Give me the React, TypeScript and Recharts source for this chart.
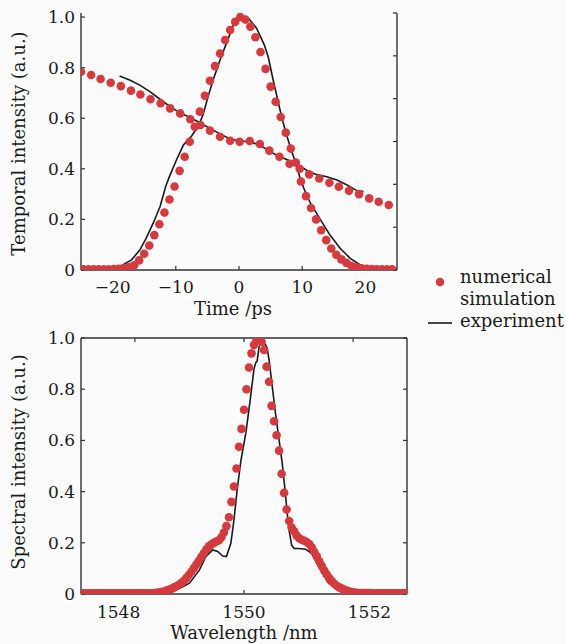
import React from "react";
import { ComposedChart, Scatter, Line, XAxis, YAxis, Label } from "recharts";

const FONT = "'DejaVu Serif', serif";
const RED = "#d43a3e";
const INK = "#1a1a1a";
const AXIS = "#333";

// #region Temporal data (ps, a.u.)
// simulated pulse, sampled every 0.8 ps starting at -24.6 ps
const pulseSimStart = -24.6;
const pulseSimStep = 0.8;
const pulseSim = [
  0.003, 0.003, 0.003, 0.003, 0.003, 0.003, 0.004, 0.005, 0.007, 0.011,
  0.019, 0.038, 0.064, 0.097, 0.138, 0.181, 0.227, 0.279, 0.33, 0.392,
  0.448, 0.507, 0.566, 0.626, 0.689, 0.748, 0.806, 0.856, 0.909, 0.949,
  0.981, 1.0, 0.99, 0.962, 0.92, 0.862, 0.795, 0.725, 0.665, 0.605,
  0.543, 0.48, 0.425, 0.35, 0.292, 0.245, 0.2, 0.157, 0.118, 0.085,
  0.06, 0.042, 0.028, 0.017, 0.011, 0.007, 0.005, 0.004, 0.003, 0.003,
  0.003, 0.003,
];

const slopeSimTime = [
  -25, -23.4, -21.9, -20.3, -18.7, -17.1, -15.6, -14.0, -12.4, -10.9, -9.3,
  -7.7, -6.1, -4.6, -3.0, -1.4, 0.1, 1.7, 3.3, 4.8, 6.4, 8.0, 9.6, 11.1, 12.7,
  14.3, 15.8, 17.4, 19.0, 20.6, 22.1, 23.7,
];
const slopeSim = [
  0.784, 0.771, 0.755, 0.74, 0.727, 0.709, 0.694, 0.675, 0.659, 0.639, 0.619,
  0.596, 0.573, 0.551, 0.527, 0.511, 0.507, 0.51, 0.498, 0.472, 0.448, 0.42,
  0.4, 0.378, 0.362, 0.345, 0.329, 0.313, 0.3, 0.283, 0.27, 0.257,
];

const pulseExpTime = [
  -25, -20, -18.4, -17, -15.7, -14.7, -13.6, -12.5, -11.6, -11, -9.9, -8.8,
  -7.5, -6.5, -5.7, -4.9, -4.1, -3, -2, -0.9, 0.4, 1.5, 2.8, 4.0, 4.65, 5.4,
  6.5, 7.3, 8.1, 8.9, 9.6, 10.3, 11.3, 12.9, 14.4, 16, 17.6, 19.2, 20.8, 25,
];
const pulseExp = [
  0.004, 0.006, 0.02, 0.04, 0.079, 0.125, 0.184, 0.25, 0.33, 0.37, 0.435,
  0.494, 0.53, 0.566, 0.613, 0.685, 0.751, 0.83, 0.896, 0.968, 1.0, 0.995,
  0.955, 0.89, 0.84, 0.751, 0.632, 0.553, 0.487, 0.428, 0.37, 0.32, 0.264,
  0.198, 0.138, 0.086, 0.046, 0.02, 0.009, 0.003,
];

const slopeExpTime = [
  -18.9, -17.3, -15.7, -14.1, -12.5, -11.0, -9.4, -7.8, -6.2, -4.6, -3.0, -1.4,
  0.2, 1.7, 3.3, 4.9, 6.5, 8.4, 10.2, 11.0, 12.3, 13.9, 15.5, 17.1, 18.7, 19.7,
];
const slopeExp = [
  0.767, 0.751, 0.731, 0.705, 0.675, 0.648, 0.622, 0.604, 0.582, 0.56, 0.538,
  0.518, 0.51, 0.507, 0.494, 0.468, 0.448, 0.428, 0.402, 0.39, 0.377, 0.369,
  0.356, 0.336, 0.313, 0.31,
];

const timeTicks = [-20, -10, 0, 10, 20];
const intensityTicks = [0, 0.2, 0.4, 0.6, 0.8, 1];
const topRightTicks = [0, 0.2, 0.4, 0.6, 0.8, 1, 1.2];
// #endregion

// #region Spectral data (nm, a.u.)
// simulated spectrum, sampled every 0.04 nm starting at 1547.4 nm
const specSimStart = 1547.4;
const specSimStep = 0.04;
const specSim = [
  0.003, 0.003, 0.003, 0.003, 0.003, 0.003, 0.003, 0.003, 0.003, 0.003,
  0.003, 0.003, 0.003, 0.003, 0.003, 0.003, 0.003, 0.003, 0.003, 0.003,
  0.003, 0.003, 0.003, 0.003, 0.003, 0.003, 0.003, 0.003, 0.003, 0.004,
  0.005, 0.006, 0.008, 0.01, 0.013, 0.016, 0.02, 0.025, 0.03, 0.036,
  0.043, 0.052, 0.062, 0.074, 0.087, 0.101, 0.115, 0.13, 0.145, 0.16,
  0.175, 0.186, 0.194, 0.2, 0.205, 0.21, 0.222, 0.24, 0.265, 0.3,
  0.36, 0.42, 0.49, 0.575, 0.645, 0.72, 0.8, 0.885, 0.94, 0.973,
  0.992, 1.0, 0.985, 0.953, 0.888, 0.829, 0.735, 0.675, 0.62, 0.56,
  0.47, 0.395, 0.33, 0.285, 0.26, 0.245, 0.228, 0.218, 0.212, 0.208,
  0.203, 0.195, 0.182, 0.165, 0.147, 0.128, 0.11, 0.092, 0.076, 0.062,
  0.05, 0.04, 0.032, 0.026, 0.021, 0.016, 0.013, 0.01, 0.008, 0.006,
  0.005, 0.004, 0.004, 0.004, 0.004, 0.004, 0.003, 0.003, 0.003, 0.003,
  0.003, 0.003, 0.003, 0.003, 0.003, 0.003, 0.003, 0.003, 0.003, 0.003,
  0.003,
];

const specExpWl = [
  1547.4, 1548.5, 1548.75, 1548.9, 1549.0, 1549.13, 1549.29, 1549.39, 1549.5,
  1549.58, 1549.66, 1549.72, 1549.79, 1549.84, 1549.89, 1549.95, 1550.03,
  1550.1, 1550.16, 1550.19, 1550.21, 1550.24, 1550.27, 1550.3, 1550.34,
  1550.37, 1550.4, 1550.5, 1550.61, 1550.66, 1550.71, 1550.76, 1550.8,
  1550.87, 1550.98, 1551.08, 1551.19, 1551.35, 1551.51, 1551.61, 1551.83,
  1552.6,
];
const specExp = [
  0.003, 0.003, 0.006, 0.015, 0.025, 0.042, 0.094, 0.146, 0.172, 0.166, 0.148,
  0.146, 0.198, 0.289, 0.406, 0.52, 0.63, 0.76, 0.88, 0.905, 0.91, 0.965,
  0.98, 0.975, 0.975, 0.96, 0.914, 0.71, 0.51, 0.393, 0.263, 0.19, 0.178,
  0.178, 0.175, 0.159, 0.107, 0.042, 0.029, 0.022, 0.005, 0.003,
];

const wlTicks = [1548, 1550, 1552];
// unlabelled marks on the top frame of the spectrum panel
const wlFrameTicks = [1548.26, 1550, 1551.74];
// #endregion

const zip = (xs: number[], ys: number[]) => xs.map((x, i) => ({ x, y: ys[i] }));
const sampled = (start: number, step: number, ys: number[]) =>
  ys.map((y, i) => ({ x: +(start + step * i).toFixed(3), y }));

const pulseSimData = sampled(pulseSimStart, pulseSimStep, pulseSim);
const slopeSimData = zip(slopeSimTime, slopeSim);
const pulseExpData = zip(pulseExpTime, pulseExp);
const slopeExpData = zip(slopeExpTime, slopeExp);
const specSimData = sampled(specSimStart, specSimStep, specSim);
const specExpData = zip(specExpWl, specExp);

const fmtIntensity = (v: number) => (v === 0 ? "0" : v.toFixed(1));
const fmtTime = (v: number) => (v < 0 ? `\u2212${Math.abs(v)}` : String(v));

// axis strokes a bit heavier than hairline, like the printed figure
const axisLine = { stroke: AXIS, strokeWidth: 1.4 };
const tickLine = { stroke: AXIS, strokeWidth: 1.2 };

// tick label renderers, so the serif face is really used
const YTick = (props: any) => (
  <text
    x={props.x}
    y={props.y}
    textAnchor="end"
    dominantBaseline="central"
    fontSize={17}
    fontFamily={FONT}
    fill={INK}
  >
    {fmtIntensity(props.payload.value)}
  </text>
);

const makeXTick = (fmt: (v: number) => string) => (props: any) => (
  <text
    x={props.x}
    y={props.y}
    dy="0.72em"
    textAnchor="middle"
    fontSize={17}
    fontFamily={FONT}
    fill={INK}
  >
    {fmt(props.payload.value)}
  </text>
);
const TimeTick = makeXTick(fmtTime);
const WlTick = makeXTick((v) => String(v));
const NoTick = () => <g />;

const SimDot = (props: any) =>
  props.cx == null ? null : (
    <circle cx={props.cx} cy={props.cy} r={4.3} fill={RED} />
  );

const yTitle = (text: string, dy: number) => (props: any) => {
  const vb = props.viewBox || { y: 0, height: 0 };
  const cy = vb.y + vb.height / 2 + dy;
  return (
    <text
      x={18}
      y={cy}
      transform={`rotate(-90, 18, ${cy})`}
      textAnchor="middle"
      dominantBaseline="central"
      fontSize={18}
      fontFamily={FONT}
      fill={INK}
    >
      {text}
    </text>
  );
};

const xTitle = (text: string, dx: number) => (props: any) => {
  const vb = props.viewBox || { x: 0, y: 0, width: 0 };
  return (
    <text
      x={vb.x + vb.width / 2 + dx}
      y={vb.y + 38}
      textAnchor="middle"
      dominantBaseline="central"
      fontSize={18}
      fontFamily={FONT}
      fill={INK}
    >
      {text}
    </text>
  );
};

const TemporalChart = () => (
  <ComposedChart
    width={566}
    height={322}
    margin={{ top: 13, right: 168, bottom: 0, left: 0 }}
  >
    <XAxis
      xAxisId="b"
      type="number"
      dataKey="x"
      domain={[-25, 25]}
      ticks={timeTicks}
      height={52}
      tickSize={-4}
      tickMargin={15}
      tick={TimeTick}
      axisLine={axisLine}
      tickLine={tickLine}
      allowDataOverflow
    >
      <Label content={xTitle("Time /ps", -6)} />
    </XAxis>
    <YAxis
      yAxisId="l"
      type="number"
      domain={[0, 1.016]}
      ticks={intensityTicks}
      width={81}
      tickSize={-4}
      tickMargin={10}
      tick={YTick}
      axisLine={axisLine}
      tickLine={tickLine}
      allowDataOverflow
    >
      <Label content={yTitle("Temporal intensity (a.u.)", 2)} />
    </YAxis>
    <YAxis
      yAxisId="r"
      orientation="right"
      type="number"
      domain={[0, 1.2]}
      ticks={topRightTicks}
      tick={NoTick}
      width={1}
      tickSize={-4}
      axisLine={axisLine}
      tickLine={tickLine}
      allowDataOverflow
    />
    <Scatter
      xAxisId="b"
      yAxisId="l"
      data={pulseSimData}
      dataKey="y"
      shape={SimDot}
      isAnimationActive={false}
    />
    <Scatter
      xAxisId="b"
      yAxisId="l"
      data={slopeSimData}
      dataKey="y"
      shape={SimDot}
      isAnimationActive={false}
    />
    <Line
      xAxisId="b"
      yAxisId="l"
      data={pulseExpData}
      dataKey="y"
      type="linear"
      stroke={INK}
      strokeWidth={1.6}
      dot={false}
      isAnimationActive={false}
    />
    <Line
      xAxisId="b"
      yAxisId="l"
      data={slopeExpData}
      dataKey="y"
      type="linear"
      stroke={INK}
      strokeWidth={1.6}
      dot={false}
      isAnimationActive={false}
    />
  </ComposedChart>
);

const SpectralChart = () => (
  <ComposedChart
    width={566}
    height={322}
    margin={{ top: 15, right: 158, bottom: 0, left: 0 }}
  >
    <XAxis
      xAxisId="b"
      type="number"
      dataKey="x"
      domain={[1547.4, 1552.6]}
      ticks={wlTicks}
      height={50}
      tickSize={-4}
      tickMargin={16}
      tick={WlTick}
      axisLine={axisLine}
      tickLine={tickLine}
      allowDataOverflow
    >
      <Label content={xTitle("Wavelength /nm", 0)} />
    </XAxis>
    <XAxis
      xAxisId="t"
      orientation="top"
      type="number"
      dataKey="x"
      domain={[1547.4, 1552.6]}
      ticks={wlFrameTicks}
      tick={NoTick}
      height={1}
      tickSize={-4}
      axisLine={axisLine}
      tickLine={tickLine}
      allowDataOverflow
    />
    <YAxis
      yAxisId="l"
      type="number"
      domain={[0, 1]}
      ticks={intensityTicks}
      width={81}
      tickSize={-4}
      tickMargin={10}
      tick={YTick}
      axisLine={axisLine}
      tickLine={tickLine}
      allowDataOverflow
    >
      <Label content={yTitle("Spectral intensity (a.u.)", -4)} />
    </YAxis>
    <YAxis
      yAxisId="r"
      orientation="right"
      type="number"
      domain={[0, 1]}
      ticks={intensityTicks}
      tick={NoTick}
      width={1}
      tickSize={-4}
      axisLine={axisLine}
      tickLine={tickLine}
      allowDataOverflow
    />
    <Scatter
      xAxisId="t"
      yAxisId="l"
      data={specSimData}
      dataKey="y"
      shape={SimDot}
      isAnimationActive={false}
    />
    <Line
      xAxisId="b"
      yAxisId="r"
      data={specExpData}
      dataKey="y"
      type="linear"
      stroke={INK}
      strokeWidth={1.6}
      dot={false}
      isAnimationActive={false}
    />
  </ComposedChart>
);

const LegendBox = () => (
  <svg
    width={566}
    height={644}
    style={{ position: "absolute", left: 0, top: 0, pointerEvents: "none" }}
  >
    <circle cx={440} cy={282} r={4.3} fill={RED} />
    <text x={460} y={283} fontSize={18} fontFamily={FONT} fill={INK}>
      numerical
    </text>
    <text x={460} y={305} fontSize={18} fontFamily={FONT} fill={INK}>
      simulation
    </text>
    <line x1={428} x2={452} y1={323} y2={323} stroke={INK} strokeWidth={1.6} />
    <text x={460} y={327} fontSize={18} fontFamily={FONT} fill={INK}>
      experiment
    </text>
  </svg>
);

export default function App() {
  return (
    <div
      style={{
        position: "absolute",
        left: 0,
        top: 0,
        width: 566,
        height: 644,
        background: "#fbfbfb",
        overflow: "hidden",
      }}
    >
      <div style={{ position: "absolute", left: 0, top: 0 }}>
        <TemporalChart />
      </div>
      <div style={{ position: "absolute", left: 0, top: 322 }}>
        <SpectralChart />
      </div>
      <LegendBox />
    </div>
  );
}
